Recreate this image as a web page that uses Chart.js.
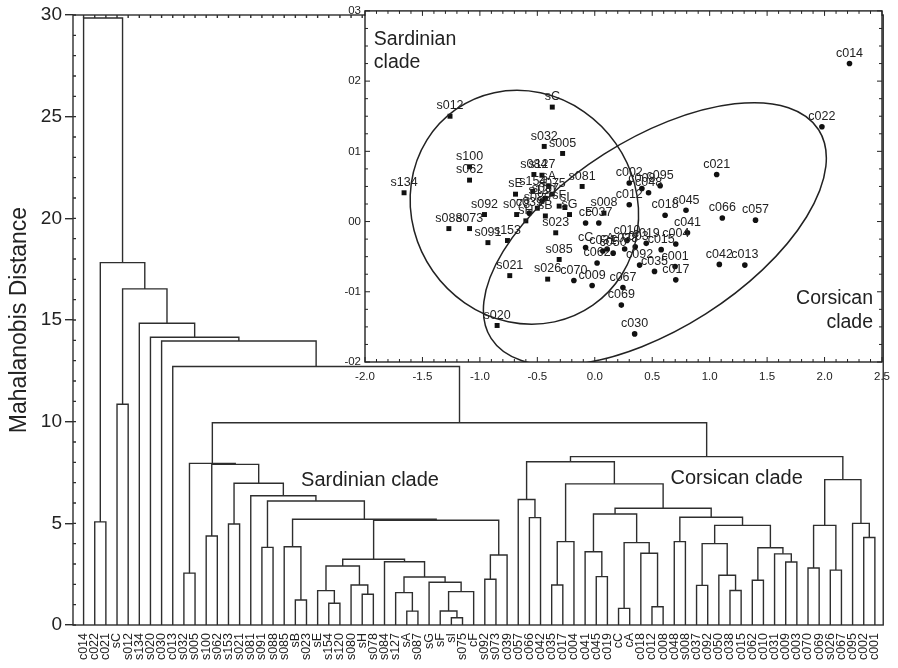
<!DOCTYPE html>
<html>
<head>
<meta charset="utf-8">
<script src="https://cdn.jsdelivr.net/npm/chart.js@4.4.1/dist/chart.umd.min.js"></script>
<style>
  html, body { margin: 0; padding: 0; background: #fff; }
  #wrap { position: relative; width: 898px; height: 668px; }
  #main { position: absolute; left: 0; top: 0; }
  #inset { position: absolute; left: 330px; top: 0; }
</style>
</head>
<body>
<div id="wrap">
  <canvas id="main" width="898" height="668"></canvas>
  <canvas id="inset" width="568" height="392"></canvas>
</div>
<script>
// ---- dendrogram data ----
const leaves = ['c014','c022','c021','sC','s012','s134','s020','c030','c013','s032','s005','s100','s062','s153','s021','s081','s091','s088','s085','sB','s023','sE','s154','s120','s080','sH','s078','s084','s127','sA','s087','sG','sF','sI','s075','cF','s092','s073','c039','c057','c066','c042','c035','c017','c004','c041','c045','c019','cC','cA','c018','c012','c008','c048','s008','c037','c092','c050','c038','c015','c062','c010','c031','c009','c003','c070','c069','s026','c067','c095','c002','c001'];

// [left child, right child, distance]; strings are leaves, numbers are earlier merges
const merges = [
  ['s032','s005',2.55], ['s100','s062',4.38], ['s153','s021',4.97], ['s091','s088',3.82],
  ['sB','s023',1.23], ['s085',4,3.85], ['s154','s120',1.07], ['sE',6,1.69],
  ['sH','s078',1.51], ['s080',8,1.97], [7,9,2.90], ['sA','s087',0.68],
  ['s127',11,1.59], ['sI','s075',0.36], ['sF',13,0.69], [14,'cF',1.64],
  ['sG',15,2.10], [12,16,2.36], ['s084',17,3.11], [10,18,3.23],
  ['s092','s073',2.25], [20,'c039',3.44], [19,21,5.15], [5,22,5.20],
  [3,23,6.10], ['s081',24,6.36], [2,25,6.97], [1,26,7.90], [0,27,7.95],
  ['c066','c042',5.28], ['c057',29,6.17], ['c035','c017',1.97], [31,'c004',4.10],
  ['c045','c019',2.38], ['c041',33,3.60], ['cC','cA',0.82], ['c012','c008',0.90],
  ['c018',36,3.53], [35,37,4.05], [34,38,5.46], ['c048','s008',4.10],
  ['c037','c092',1.95], ['c038','c015',1.70], ['c050',42,2.45], [41,43,4.00],
  ['c062','c010',2.20], ['c009','c003',3.10], ['c031',46,3.50], [45,47,3.80],
  [44,48,4.90], [40,49,5.30], [39,50,5.74], [32,51,6.94], [30,52,8.03],
  ['c070','c069',2.80], ['s026','c067',2.70], [54,55,4.90], ['c002','c001',4.30],
  ['c095',57,5.00], [56,58,7.15], [53,59,8.28], [28,60,9.95],
  ['c013',61,12.71], ['c030',62,13.97], ['s020',63,14.15], ['s134',64,14.84],
  ['sC','s012',10.86], [66,65,16.53], ['c022','c021',5.07], [68,67,17.82],
  ['c014',69,29.85]
];

// ---- scatter (inset) data ----
const sardLabels = ['sC','s012','s134','s020','s032','s005','s100','s062','s153','s021','s081','s091','s088','s085','sB','s023','sE','s154','s120','s080','sH','s078','s084','s127','sA','s087','sG','sF','sI','s075','s092','s073','s008','s026'];
const sardX = [-0.37,-1.26,-1.66,-0.85,-0.44,-0.28,-1.09,-1.09,-0.76,-0.74,-0.11,-0.93,-1.27,-0.31,-0.43,-0.34,-0.69,-0.54,-0.46,-0.50,-0.60,-0.68,-0.53,-0.46,-0.40,-0.43,-0.22,-0.31,-0.26,-0.37,-0.96,-1.09,0.08,-0.41];
const sardY = [0.163,0.150,0.041,-0.148,0.107,0.097,0.078,0.059,-0.027,-0.077,0.050,-0.030,-0.010,-0.054,0.008,-0.016,0.039,0.043,0.029,0.019,0.001,0.010,0.067,0.066,0.050,0.033,0.010,0.022,0.020,0.039,0.010,-0.010,0.012,-0.082];

const corsLabels = ['c014','c022','c021','c030','c013','cF','c039','c057','c066','c042','c035','c017','c004','c041','c045','c019','cC','cA','c018','c012','c008','c048','c037','c092','c050','c038','c015','c062','c010','c031','c009','c003','c070','c069','c067','c095','c002','c001'];
const corsX = [2.217,1.977,1.061,0.347,1.306,-0.08,-0.57,1.399,1.110,1.084,0.520,0.705,0.705,0.807,0.794,0.448,-0.08,0.107,0.612,0.300,0.41,0.468,0.035,0.390,0.16,0.26,0.578,0.02,0.280,0.07,-0.023,0.352,-0.182,0.231,0.245,0.569,0.300,0.699];
const corsY = [0.225,0.135,0.067,-0.160,-0.062,-0.002,0.012,0.002,0.005,-0.061,-0.071,-0.083,-0.032,-0.016,0.016,-0.031,-0.037,-0.039,0.009,0.024,0.047,0.041,-0.002,-0.062,-0.045,-0.039,-0.040,-0.059,-0.027,-0.042,-0.091,-0.036,-0.084,-0.119,-0.094,0.051,0.055,-0.064];

const insetXTicks = [-2.0,-1.5,-1.0,-0.5,0.0,0.5,1.0,1.5,2.0,2.5];
const insetYTicks = [-0.2,-0.1,0.0,0.1,0.2,0.3];
const insetYTickLabels = ['-02','-01','00','01','02','03'];

// 95% ellipses: centre in data units, radii in x units, rotation in degrees on screen
const ellipses = [
  { cx: -0.613, cy: 0.0203, rx: 1.04, ry: 0.971, rot: 55 },
  { cx: 0.523, cy: -0.0178, rx: 1.69, ry: 0.824, rot: -32.5 }
];

const FONT = '"Liberation Sans", Arial, Helvetica, sans-serif';
const INK = '#222';
const LINE = '#2e2e2e';
Chart.defaults.font.family = FONT;
Chart.defaults.color = INK;

// build link datasets from the merge table
const nodeX = [], nodeH = [];
function childPos(c) {
  return typeof c === 'string' ? { x: leaves.indexOf(c), h: 0 } : { x: nodeX[c], h: nodeH[c] };
}
const linkSets = merges.map(([a, b, h], i) => {
  const l = childPos(a), r = childPos(b);
  nodeX[i] = (l.x + r.x) / 2;
  nodeH[i] = h;
  return {
    data: [{ x: l.x, y: l.h }, { x: l.x, y: h }, { x: r.x, y: h }, { x: r.x, y: r.h }],
    showLine: true, borderColor: LINE, borderWidth: 1.4,
    pointRadius: 0, fill: false, tension: 0
  };
});

const mainFrame = {
  id: 'mainFrame',
  afterDraw(chart) {
    const { ctx, chartArea: a, scales: { x, y } } = chart;
    ctx.save();
    ctx.strokeStyle = LINE;
    ctx.lineWidth = 1.4;
    ctx.strokeRect(a.left, a.top, a.width, a.height);
    ctx.beginPath();
    for (let v = 0; v <= 30; v++) {
      const py = y.getPixelForValue(v);
      ctx.moveTo(a.left, py); ctx.lineTo(a.left + 3, py);
    }
    leaves.forEach((_, i) => {
      const px = x.getPixelForValue(i);
      ctx.moveTo(px, a.top); ctx.lineTo(px, a.top + 3);
    });
    ctx.stroke();
    // clade captions
    ctx.fillStyle = INK;
    ctx.font = '20px ' + FONT;
    ctx.textAlign = 'center';
    ctx.textBaseline = 'middle';
    ctx.fillText('Sardinian clade', x.getPixelForValue(25.7), y.getPixelForValue(7.13));
    ctx.fillText('Corsican clade', x.getPixelForValue(58.6), y.getPixelForValue(7.23));
    ctx.restore();
  }
};

new Chart(document.getElementById('main'), {
  type: 'scatter',
  data: { datasets: linkSets },
  options: {
    responsive: false,
    animation: false,
    layout: { padding: { top: 15, right: 12, left: 0, bottom: 0 } },
    plugins: { legend: { display: false }, tooltip: { enabled: false } },
    scales: {
      x: {
        type: 'linear', min: -0.95, max: 71.75,
        afterBuildTicks: s => { s.ticks = leaves.map((_, i) => ({ value: i })); },
        afterFit: s => { s.height = 43; },
        ticks: {
          autoSkip: false, maxRotation: 90, minRotation: 90, padding: 8,
          color: INK, font: { size: 12.5 },
          callback: v => leaves[v]
        },
        grid: { display: false, drawTicks: false },
        border: { display: false }
      },
      y: {
        min: 0, max: 30,
        afterFit: s => { s.width = 73; },
        ticks: { stepSize: 5, padding: 3, color: INK, font: { size: 19 } },
        grid: { drawOnChartArea: false, tickLength: 8, color: LINE, lineWidth: 1.4 },
        border: { display: false },
        title: {
          display: true, text: 'Mahalanobis Distance', color: INK,
          font: { size: 23 }, padding: { top: 6, bottom: 0 }
        }
      }
    }
  },
  plugins: [mainFrame]
});

// ---- inset scatter ----
const toPoints = (xs, ys) => xs.map((v, i) => ({ x: v, y: ys[i] }));

const insetDecor = {
  id: 'insetDecor',
  beforeDraw(chart) {
    const { ctx, chartArea: a } = chart;
    ctx.save();
    ctx.fillStyle = '#fff';
    ctx.fillRect(a.left, a.top, a.width, a.height);
    ctx.restore();
  },
  afterDatasetsDraw(chart) {
    const { ctx, chartArea: a, scales: { x, y } } = chart;
    ctx.save();
    ctx.beginPath();
    ctx.rect(a.left, a.top, a.width, a.height);
    ctx.clip();
    ctx.strokeStyle = INK;
    ctx.lineWidth = 1.5;
    ellipses.forEach(e => {
      const px = x.getPixelForValue(e.cx), py = y.getPixelForValue(e.cy);
      const unit = x.getPixelForValue(e.cx + 1) - px;
      ctx.beginPath();
      ctx.ellipse(px, py, e.rx * unit, e.ry * unit, e.rot * Math.PI / 180, 0, 2 * Math.PI);
      ctx.stroke();
    });
    ctx.restore();

    // point labels
    ctx.save();
    ctx.fillStyle = INK;
    ctx.font = '12.5px ' + FONT;
    ctx.textAlign = 'center';
    ctx.textBaseline = 'bottom';
    [sardLabels, corsLabels].forEach((labels, di) => {
      chart.getDatasetMeta(di).data.forEach((el, i) => {
        ctx.fillText(labels[i], el.x, el.y - 4);
      });
    });
    ctx.font = '19.5px ' + FONT;
    ctx.textBaseline = 'middle';
    ctx.textAlign = 'left';
    ctx.fillText('Sardinian', x.getPixelForValue(-1.923), y.getPixelForValue(0.2595));
    ctx.fillText('clade', x.getPixelForValue(-1.923), y.getPixelForValue(0.2266));
    ctx.textAlign = 'right';
    ctx.fillText('Corsican', x.getPixelForValue(2.422), y.getPixelForValue(-0.1096));
    ctx.fillText('clade', x.getPixelForValue(2.422), y.getPixelForValue(-0.1435));
    ctx.restore();
  },
  afterDraw(chart) {
    const { ctx, chartArea: a, scales: { x, y } } = chart;
    ctx.save();
    ctx.strokeStyle = INK;
    ctx.lineWidth = 1.4;
    ctx.strokeRect(a.left, a.top, a.width, a.height);
    ctx.lineWidth = 1;
    ctx.beginPath();
    for (let i = 0; i <= 45; i++) {
      const px = x.getPixelForValue(-2 + i * 0.1);
      const len = i % 5 === 0 ? 5 : 3;
      ctx.moveTo(px, a.bottom); ctx.lineTo(px, a.bottom - len);
      ctx.moveTo(px, a.top); ctx.lineTo(px, a.top + len);
    }
    for (let j = 0; j <= 20; j++) {
      const py = y.getPixelForValue(-0.2 + j * 0.025);
      const len = j % 4 === 0 ? 5 : 3;
      ctx.moveTo(a.left, py); ctx.lineTo(a.left + len, py);
      ctx.moveTo(a.right, py); ctx.lineTo(a.right - len, py);
    }
    ctx.stroke();
    ctx.restore();
  }
};

new Chart(document.getElementById('inset'), {
  type: 'scatter',
  data: {
    datasets: [
      {
        data: toPoints(sardX, sardY), pointStyle: 'rect', pointRadius: 3.5,
        backgroundColor: '#111', borderWidth: 0
      },
      {
        data: toPoints(corsX, corsY), pointStyle: 'circle', pointRadius: 2.8,
        backgroundColor: '#111', borderWidth: 0
      }
    ]
  },
  options: {
    responsive: false,
    animation: false,
    layout: { padding: { top: 8, right: 13, left: 0, bottom: 0 } },
    plugins: { legend: { display: false }, tooltip: { enabled: false } },
    scales: {
      x: {
        type: 'linear', min: -2.0, max: 2.5,
        afterBuildTicks: s => { s.ticks = insetXTicks.map(v => ({ value: v })); },
        afterFit: s => { s.height = 30; },
        ticks: { padding: 8, color: INK, font: { size: 11.5 }, callback: v => v.toFixed(1) },
        grid: { display: false, drawTicks: false },
        border: { display: false }
      },
      y: {
        min: -0.2, max: 0.3,
        afterBuildTicks: s => { s.ticks = insetYTicks.map(v => ({ value: v })); },
        afterFit: s => { s.width = 35; },
        ticks: { padding: 4, color: INK, font: { size: 11.5 }, callback: (v, i) => insetYTickLabels[i] },
        grid: { display: false, drawTicks: false },
        border: { display: false }
      }
    }
  },
  plugins: [insetDecor]
});
</script>
</body>
</html>
